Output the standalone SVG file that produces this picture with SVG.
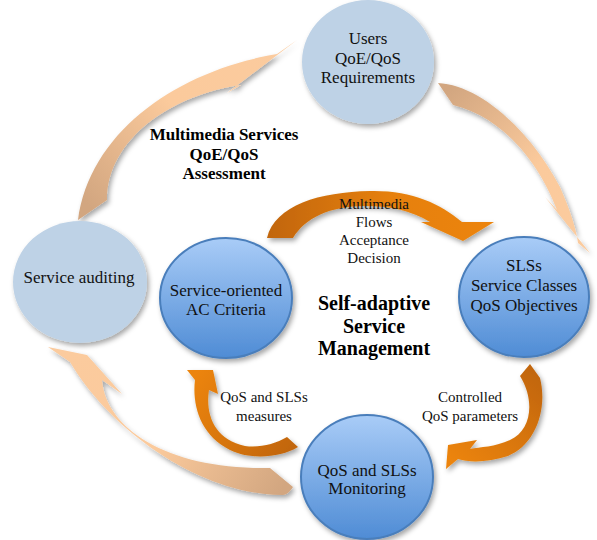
<svg xmlns="http://www.w3.org/2000/svg" width="597" height="540" viewBox="0 0 597 540">
<defs>
<filter id="sh" x="-20%" y="-20%" width="140%" height="140%">
<feDropShadow dx="2" dy="3" stdDeviation="2.5" flood-color="#000" flood-opacity="0.35"/>
</filter>
<linearGradient id="blue" x1="0" y1="0" x2="0" y2="1">
<stop offset="0" stop-color="#A9CCF7"/>
<stop offset="1" stop-color="#4F8CD5"/>
</linearGradient>
<linearGradient id="g1" gradientUnits="userSpaceOnUse" x1="92" y1="210" x2="290" y2="45">
<stop offset="0" stop-color="#D2A680"/>
<stop offset="0.5" stop-color="#FBCA9C"/>
<stop offset="1" stop-color="#FBCB9E"/>
</linearGradient>
<linearGradient id="g2" gradientUnits="userSpaceOnUse" x1="445" y1="92" x2="585" y2="250">
<stop offset="0" stop-color="#D2A680"/>
<stop offset="0.55" stop-color="#FBCA9C"/>
<stop offset="1" stop-color="#FBCB9E"/>
</linearGradient>
<linearGradient id="g3" gradientUnits="userSpaceOnUse" x1="285" y1="485" x2="60" y2="350">
<stop offset="0" stop-color="#D2A680"/>
<stop offset="0.5" stop-color="#FBCA9C"/>
<stop offset="1" stop-color="#FBCB9E"/>
</linearGradient>
<linearGradient id="o4" gradientUnits="userSpaceOnUse" x1="270" y1="220" x2="490" y2="220">
<stop offset="0" stop-color="#C2660A"/>
<stop offset="0.55" stop-color="#E6800A"/>
<stop offset="1" stop-color="#EC840A"/>
</linearGradient>
<linearGradient id="o5" gradientUnits="userSpaceOnUse" x1="530" y1="370" x2="450" y2="458">
<stop offset="0" stop-color="#C2660A"/>
<stop offset="0.5" stop-color="#D8760B"/>
<stop offset="1" stop-color="#EC840A"/>
</linearGradient>
<linearGradient id="o6" gradientUnits="userSpaceOnUse" x1="292" y1="445" x2="195" y2="375">
<stop offset="0" stop-color="#C2660A"/>
<stop offset="0.5" stop-color="#D8760B"/>
<stop offset="1" stop-color="#EC840A"/>
</linearGradient>
</defs>
<style>
.lb{fill:#BED2E6;filter:url(#sh)}
.db{fill:url(#blue);stroke:#4A7EBB;stroke-width:2;filter:url(#sh)}
.arr{filter:url(#sh)}
.t{font-family:"Liberation Serif","Times New Roman",serif;font-size:17px;fill:#111;text-anchor:middle}
.s{font-family:"Liberation Serif","Times New Roman",serif;font-size:15px;fill:#111;text-anchor:middle}
.b{font-family:"Liberation Serif","Times New Roman",serif;font-size:17px;font-weight:bold;fill:#000;text-anchor:middle}
.bb{font-family:"Liberation Serif","Times New Roman",serif;font-size:20px;font-weight:bold;fill:#000;text-anchor:middle}
</style>
<g id="connectors">
<path class="arr" fill="url(#g1)" d="M78,220 C90,130 180,70 277,54 L297,40 L227,93 L241,85 C170,95 107,140 107,200 Z"/>
<path class="arr" fill="url(#g2)" d="M438,83 C480,85 530,130 560,187 C570,210 576,228 578,243 L590,253 L545,197 L557,210 C540,165 505,118 453,105 Z"/>
<path class="arr" fill="url(#g3)" d="M48,347 L87,355 L122,394 L102,380 C106,430 170,470 270,468 L293,487 C290,492 286,495 283,495 C200,495 110,430 70,362 Z"/>
<path class="arr" fill="url(#o4)" d="M267,238 C275,205 320,192 370,191 C410,190 440,203 462,222 L494,222 L463,241 L421,222 L430,222 C410,210 390,206 365,206 C330,206 305,218 293,238 Z"/>
<path class="arr" fill="url(#o5)" d="M520,376 C535,400 532,430 510,440 C495,447 480,447 470,449 L477,440 L448,445 L446,469 L458,459 C470,463 490,462 508,456 C535,445 548,410 540,378 L530,364 Z"/>
<path class="arr" fill="url(#o6)" d="M298,447 C280,458 250,460 230,450 C200,435 192,405 195,380 L187,370 L213,370 L218,394 L209,390 C205,415 215,440 245,446 C260,448 275,444 287,437 Z"/>
</g>
<g id="users">
<ellipse class="lb" cx="368" cy="62" rx="66" ry="62"/>
<text class="t" x="368" y="44">Users</text>
<text class="t" x="368" y="64">QoE/QoS</text>
<text class="t" x="368" y="83">Requirements</text>
</g>
<g id="auditing">
<ellipse class="lb" cx="80" cy="282" rx="67" ry="61"/>
<text class="t" x="79" y="283">Service auditing</text>
</g>
<g id="ac">
<ellipse class="db" cx="226" cy="298" rx="66" ry="60"/>
<text class="t" x="226" y="296">Service-oriented</text>
<text class="t" x="226" y="315">AC Criteria</text>
</g>
<g id="sls">
<ellipse class="db" cx="524" cy="297" rx="65" ry="60"/>
<text class="t" x="524" y="271">SLSs</text>
<text class="t" x="524" y="291">Service Classes</text>
<text class="t" x="524" y="311">QoS Objectives</text>
</g>
<g id="monitoring">
<ellipse class="db" cx="367" cy="477" rx="66" ry="62"/>
<text class="t" x="367" y="476">QoS and SLSs</text>
<text class="t" x="367" y="494">Monitoring</text>
</g>
<g id="labels">
<text class="b" x="224" y="140">Multimedia Services</text>
<text class="b" x="224" y="160">QoE/QoS</text>
<text class="b" x="224" y="179">Assessment</text>
<text class="bb" x="374" y="310">Self-adaptive</text>
<text class="bb" x="374" y="333">Service</text>
<text class="bb" x="374" y="355">Management</text>
<text class="s" x="374" y="209">Multimedia</text>
<text class="s" x="374" y="227">Flows</text>
<text class="s" x="374" y="245">Acceptance</text>
<text class="s" x="374" y="263">Decision</text>
<text class="s" x="470" y="402">Controlled</text>
<text class="s" x="470" y="421">QoS parameters</text>
<text class="s" x="264" y="402">QoS and SLSs</text>
<text class="s" x="264" y="421">measures</text>
</g>
</svg>
